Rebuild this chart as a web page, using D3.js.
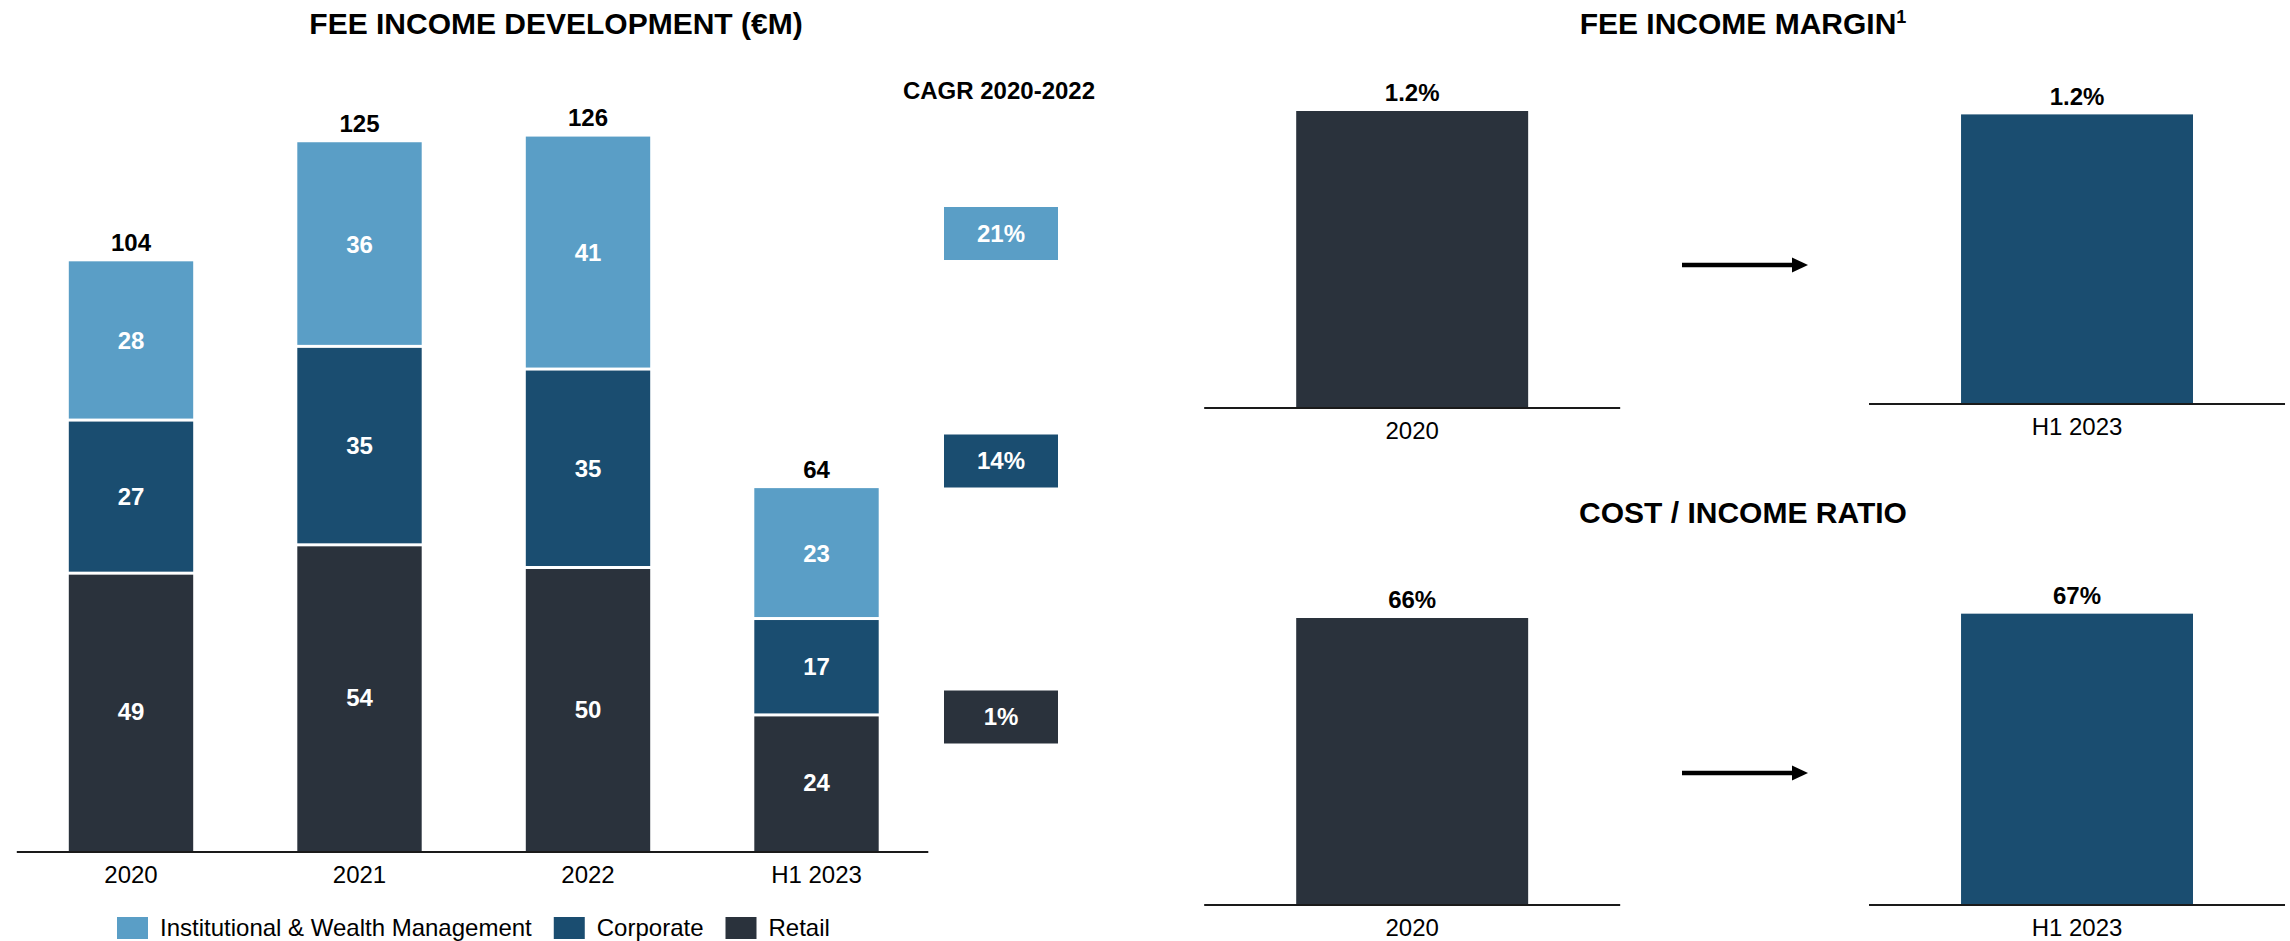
<!DOCTYPE html>
<html>
<head>
<meta charset="utf-8">
<script src="https://cdn.jsdelivr.net/npm/d3@7"></script>
<style>
  html, body { margin: 0; padding: 0; background: #fff; }
  svg { display: block; font-family: "Liberation Sans", Arial, sans-serif; }
</style>
</head>
<body>
<svg id="chart" width="2290" height="941"></svg>
<script>
// ---------- DATA ----------
const categories = ["2020", "2021", "2022", "H1 2023"];
const seriesKeys = ["Retail", "Corporate", "Institutional & Wealth Management"];
const retail = [49, 54, 50, 24];
const corporate = [27, 35, 35, 17];
const iwm = [28, 36, 41, 23];
const legendLabels = ["Institutional & Wealth Management", "Corporate", "Retail"];
const cagrLabels = ["21%", "14%", "1%"]; // IWM, Corporate, Retail
const cagrTitle = "CAGR 2020-2022";

const compareCategories = ["2020", "H1 2023"];
const feeMarginValues = [1.2, 1.17];
const feeMarginLabels = ["1.2%", "1.2%"];
const costIncomeValues = [66, 67];
const costIncomeLabels = ["66%", "67%"];

// ---------- STYLE ----------
const colors = {
  "Retail": "#2a323c",
  "Corporate": "#1a4d70",
  "Institutional & Wealth Management": "#5a9ec6"
};
const FONT = 24;

const svg = d3.select("#chart");

// ---------- LEFT: stacked bars ----------
const rows = categories.map((c, i) => ({
  cat: c,
  "Retail": retail[i],
  "Corporate": corporate[i],
  "Institutional & Wealth Management": iwm[i]
}));
const stacked = d3.stack().keys(seriesKeys)(rows);

const x = d3.scaleBand().domain(categories).range([68.8, 878.7])
  .paddingInner(0.4556).paddingOuter(0);
const y = d3.scaleLinear().domain([0, 100]).range([851, 284]);

svg.append("text")
  .attr("x", 556).attr("y", 23).attr("dy", "0.35em")
  .attr("text-anchor", "middle").attr("font-size", 30).attr("font-weight", "bold")
  .text("FEE INCOME DEVELOPMENT (€M)");

const gap = 1.5;
stacked.forEach((layer, li) => {
  const g = svg.append("g");
  const isTop = li === stacked.length - 1;
  g.selectAll("rect").data(layer).enter().append("rect")
    .attr("x", d => x(d.data.cat))
    .attr("width", x.bandwidth())
    .attr("y", d => y(d[1]) + (isTop ? 0 : gap))
    .attr("height", d => (y(d[0]) - (d[0] > 0 ? gap : 0)) - (y(d[1]) + (isTop ? 0 : gap)))
    .attr("fill", colors[layer.key]);
  g.selectAll("text").data(layer).enter().append("text")
    .attr("x", d => x(d.data.cat) + x.bandwidth() / 2)
    .attr("y", d => (y(d[0]) + y(d[1])) / 2)
    .attr("dy", "0.35em")
    .attr("text-anchor", "middle").attr("font-size", FONT).attr("font-weight", "bold")
    .attr("fill", "#fff")
    .text(d => d[1] - d[0]);
});

// totals
svg.append("g").selectAll("text").data(rows).enter().append("text")
  .attr("x", d => x(d.cat) + x.bandwidth() / 2)
  .attr("y", d => y(d["Retail"] + d["Corporate"] + d["Institutional & Wealth Management"]) - 19)
  .attr("dy", "0.35em")
  .attr("text-anchor", "middle").attr("font-size", FONT).attr("font-weight", "bold")
  .attr("fill", "#000")
  .text(d => d["Retail"] + d["Corporate"] + d["Institutional & Wealth Management"]);

// baseline
svg.append("line").attr("x1", 16.8).attr("x2", 928.3).attr("y1", 852).attr("y2", 852)
  .attr("stroke", "#1a1a1a").attr("stroke-width", 2.2);

// axis labels
const xAxis = svg.append("g").attr("transform", "translate(0,852)")
  .call(d3.axisBottom(x).tickSize(0).tickPadding(0));
xAxis.select(".domain").remove();
xAxis.selectAll("text")
  .attr("y", 23).attr("dy", "0.35em")
  .attr("font-size", FONT).attr("font-family", "Liberation Sans, Arial, sans-serif")
  .attr("fill", "#000");

// CAGR
svg.append("text")
  .attr("x", 999).attr("y", 91).attr("dy", "0.35em")
  .attr("text-anchor", "middle").attr("font-size", FONT).attr("font-weight", "bold")
  .text(cagrTitle);
const cagrCenters = [233.5, 461, 717];
const cagrColors = [colors["Institutional & Wealth Management"], colors["Corporate"], colors["Retail"]];
cagrLabels.forEach((lab, i) => {
  svg.append("rect").attr("x", 944).attr("y", cagrCenters[i] - 26.5)
    .attr("width", 114).attr("height", 53).attr("fill", cagrColors[i]);
  svg.append("text").attr("x", 1001).attr("y", cagrCenters[i]).attr("dy", "0.35em")
    .attr("text-anchor", "middle").attr("font-size", FONT).attr("font-weight", "bold")
    .attr("fill", "#fff").text(lab);
});

// legend
const legendColors = [colors["Institutional & Wealth Management"], colors["Corporate"], colors["Retail"]];
let lx = 117;
legendLabels.forEach((lab, i) => {
  svg.append("rect").attr("x", lx).attr("y", 917).attr("width", 31).attr("height", 22)
    .attr("fill", legendColors[i]);
  const t = svg.append("text").attr("x", lx + 43).attr("y", 928).attr("dy", "0.35em")
    .attr("font-size", FONT).attr("fill", "#000").text(lab);
  lx = lx + 43 + t.node().getComputedTextLength() + 22;
});

// ---------- RIGHT: comparison panels ----------
const xr = d3.scaleBand().domain(compareCategories).range([1296.2, 2193])
  .paddingInner(0.6511).paddingOuter(0);
const compColors = [colors["Retail"], colors["Corporate"]];

function panel(opts) {
  const { title, titleY, values, labels, baselines, hScale, arrowY, sup } = opts;
  const tt = svg.append("text")
    .attr("x", 1743).attr("y", titleY).attr("dy", "0.35em")
    .attr("text-anchor", "middle").attr("font-size", 30).attr("font-weight", "bold")
    .text(title);
  if (sup) {
    tt.append("tspan").attr("font-size", 18).attr("dy", "-0.6em").text(sup);
  }
  compareCategories.forEach((c, i) => {
    const base = baselines[i];
    const h = hScale(values[i]);
    const cx = xr(c) + xr.bandwidth() / 2;
    svg.append("rect").attr("x", xr(c)).attr("width", xr.bandwidth())
      .attr("y", base - h).attr("height", h).attr("fill", compColors[i]);
    svg.append("line").attr("x1", cx - 208).attr("x2", cx + 208)
      .attr("y1", base + 1).attr("y2", base + 1)
      .attr("stroke", "#1a1a1a").attr("stroke-width", 2.2);
    svg.append("text").attr("x", cx).attr("y", base - h - 18).attr("dy", "0.35em")
      .attr("text-anchor", "middle").attr("font-size", FONT).attr("font-weight", "bold")
      .text(labels[i]);
    svg.append("text").attr("x", cx).attr("y", base + 24).attr("dy", "0.35em")
      .attr("text-anchor", "middle").attr("font-size", FONT)
      .text(c);
  });
  // arrow
  svg.append("line").attr("x1", 1682).attr("x2", 1795).attr("y1", arrowY).attr("y2", arrowY)
    .attr("stroke", "#000").attr("stroke-width", 4.5);
  svg.append("path")
    .attr("d", `M1792,${arrowY - 7.5} L1808,${arrowY} L1792,${arrowY + 7.5} Z`)
    .attr("fill", "#000");
}

panel({
  title: "FEE INCOME MARGIN", sup: "1", titleY: 23,
  values: feeMarginValues, labels: feeMarginLabels,
  baselines: [407, 403],
  hScale: d3.scaleLinear().domain([0, 1.2]).range([0, 296]),
  arrowY: 265
});
panel({
  title: "COST / INCOME RATIO", titleY: 512,
  values: costIncomeValues, labels: costIncomeLabels,
  baselines: [904, 904],
  hScale: d3.scaleLinear().domain([0, 66]).range([0, 286]),
  arrowY: 773
});
</script>
</body>
</html>
